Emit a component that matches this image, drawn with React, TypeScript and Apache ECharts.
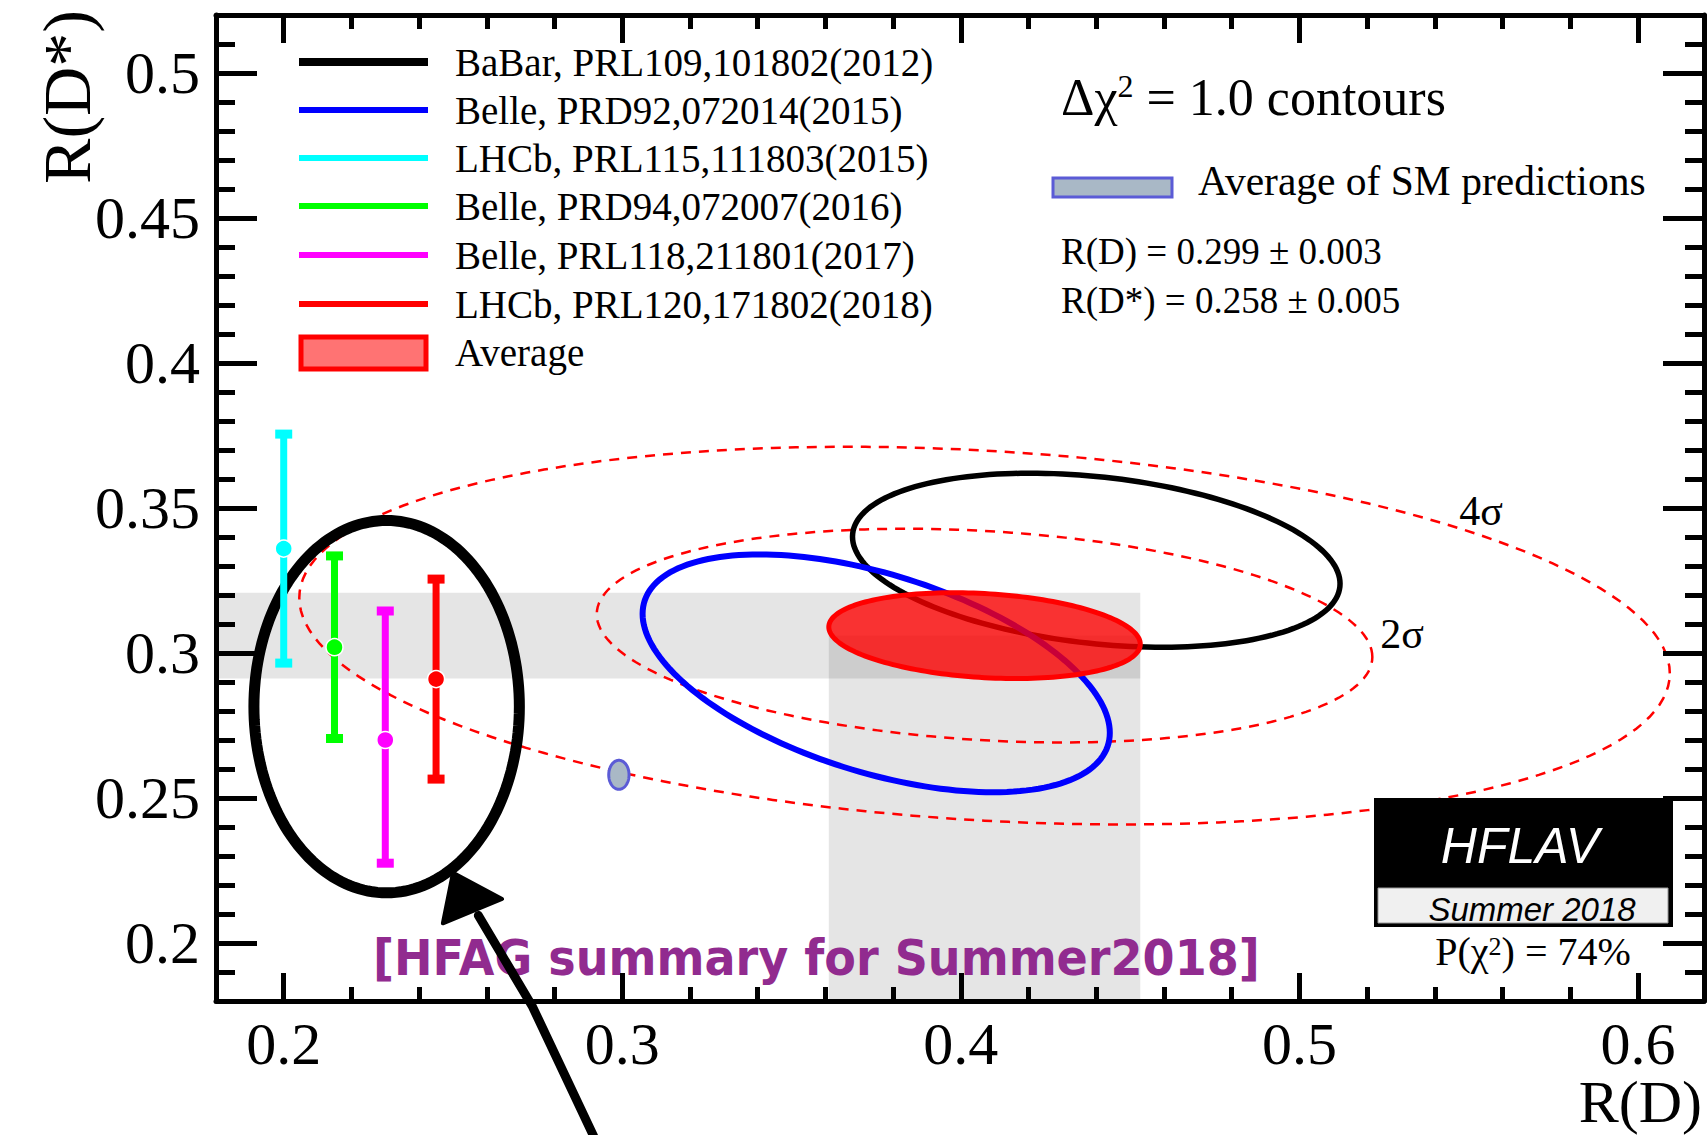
import React, { useEffect, useRef } from "react";
import * as echarts from "echarts";

// ---------- axis ranges and ticks ----------
const X_MIN = 0.18;
const X_MAX = 0.6195;
const Y_MIN = 0.18;
const Y_MAX = 0.52;
const xMajor = [0.2, 0.3, 0.4, 0.5, 0.6];
const xMinor = [0.22, 0.24, 0.26, 0.28, 0.32, 0.34, 0.36, 0.38, 0.42, 0.44, 0.46, 0.48, 0.52, 0.54, 0.56, 0.58];
const yMajor = [0.2, 0.25, 0.3, 0.35, 0.4, 0.45, 0.5];
const yMinor = [0.19, 0.21, 0.22, 0.23, 0.24, 0.26, 0.27, 0.28, 0.29, 0.31, 0.32, 0.33, 0.34, 0.36, 0.37, 0.38, 0.39, 0.41, 0.42, 0.43, 0.44, 0.46, 0.47, 0.48, 0.49, 0.51];

// ---------- 2D measurements (R(D), R(D*)), total errors, correlation ----------
const ellNames = ["BaBar, PRL109,101802(2012)", "Belle, PRD92,072014(2015)"];
const ellRD = [0.44, 0.375];
const ellRDs = [0.332, 0.293];
const ellErrRD = [0.072, 0.069];
const ellErrRDs = [0.030, 0.041];
const ellRho = [-0.27, -0.5];

// ---------- R(D*)-only measurements ----------
const barNames = ["LHCb, PRL115,111803(2015)", "Belle, PRD94,072007(2016)", "Belle, PRL118,211801(2017)", "LHCb, PRL120,171802(2018)"];
const barX = [0.2, 0.215, 0.23, 0.245];
const barRDs = [0.336, 0.302, 0.27, 0.291];
const barErrUp = [0.040, 0.032, 0.045, 0.035];
const barErrDn = [0.040, 0.032, 0.043, 0.035];

// ---------- average ----------
const avgRD = 0.407;
const avgRDs = 0.306;
const avgErrRD = 0.046;
const avgErrRDs = 0.0148;
const avgRho = -0.2;
const contourLabels = ["2σ", "4σ"];
const contourScale = [2.49, 4.4];
const pChi2 = 74;

// ---------- SM prediction ----------
const smRD = 0.299;
const smErrRD = 0.003;
const smRDs = 0.258;
const smErrRDs = 0.005;

// ---------- hand-drawn annotation (data coordinates) ----------
const annCenter = [0.2304, 0.2815];
const annRadii = [0.0392, 0.0642];
const arrowShaft = [[0.2915, 0.1335], [0.2735, 0.178], [0.2575, 0.2095]];
const arrowHead = [[0.25, 0.2242], [0.247, 0.2068], [0.2645, 0.2152]];

// ---------- styles ----------
const SERIF = "Liberation Serif";
const SANS = "Liberation Sans";
const ellColors = ["#000000", "#0000ff"];
const ellWidths = [5.5, 6];
const barColors = ["#00ffff", "#00ff00", "#ff00ff", "#ff0000"];

function ellipsePts(api: any, mx: number, my: number, sx: number, sy: number, rho: number, k: number, n = 180) {
  const pts: number[][] = [];
  const c = Math.sqrt(1 - rho * rho);
  for (let i = 0; i < n; i++) {
    const t = (2 * Math.PI * i) / n;
    pts.push(api.coord([mx + k * sx * Math.cos(t), my + k * sy * (rho * Math.cos(t) + c * Math.sin(t))]));
  }
  return pts;
}

const fmt = (v: number) => String(Math.round(v * 100) / 100);

function xAxisDef(pos: "bottom" | "top", major: boolean) {
  return {
    type: "value",
    min: X_MIN,
    max: X_MAX,
    position: pos,
    z: 10,
    axisLine: { show: major, onZero: false, lineStyle: { color: "#000", width: 5 } },
    axisTick: {
      show: true,
      inside: true,
      length: major ? 28 : 14,
      customValues: major ? xMajor : xMinor,
      lineStyle: { color: "#000", width: 5 },
    },
    axisLabel: {
      show: major && pos === "bottom",
      customValues: xMajor,
      formatter: fmt,
      margin: 18,
      lineHeight: 50,
      fontFamily: SERIF,
      fontSize: 60,
      color: "#000",
    },
    splitLine: { show: false },
  };
}

function yAxisDef(pos: "left" | "right", major: boolean) {
  return {
    type: "value",
    min: Y_MIN,
    max: Y_MAX,
    position: pos,
    z: 10,
    axisLine: { show: major, onZero: false, lineStyle: { color: "#000", width: 5 } },
    axisTick: {
      show: true,
      inside: true,
      length: major ? 41 : 19,
      customValues: major ? yMajor : yMinor,
      lineStyle: { color: "#000", width: 5 },
    },
    axisLabel: {
      show: major && pos === "left",
      customValues: yMajor,
      formatter: fmt,
      margin: 16,
      fontFamily: SERIF,
      fontSize: 60,
      color: "#000",
    },
    splitLine: { show: false },
  };
}

function txt(x: number, y: number, text: string, fontSize: number, extra: any = {}) {
  return {
    type: "text",
    x,
    y,
    z: 30,
    style: {
      text,
      fontSize,
      fontFamily: SERIF,
      fill: "#000",
      align: "left",
      textAlign: "left",
      verticalAlign: "middle",
      textVerticalAlign: "middle",
      ...extra,
    },
  };
}

function buildOption() {
  const legendNames = [...ellNames, ...barNames];
  const legendColors = [...ellColors, ...barColors];
  const legendY = [62, 110, 158, 206, 255, 304];
  const graphic: any[] = [];
  legendNames.forEach((name, i) => {
    graphic.push({
      type: "line",
      z: 30,
      shape: { x1: 299, y1: legendY[i], x2: 428, y2: legendY[i] },
      style: { stroke: legendColors[i], lineWidth: i === 0 ? 8 : 6 },
    });
    graphic.push(txt(455, legendY[i], name, 39));
  });
  graphic.push({
    type: "rect",
    z: 30,
    shape: { x: 301, y: 337, width: 125, height: 32 },
    style: { fill: "#ff7373", stroke: "#ff0000", lineWidth: 5 },
  });
  graphic.push(txt(455, 352, "Average", 39));

  // top-right block
  graphic.push(
    txt(1061, 97, "Δχ{s|2} = 1.0 contours", 52, {
      rich: { s: { fontSize: 32, fontFamily: SERIF, padding: [0, 0, 22, 0], verticalAlign: "bottom" } },
    })
  );
  graphic.push({
    type: "rect",
    z: 30,
    shape: { x: 1053, y: 178, width: 119, height: 19 },
    style: { fill: "#a9b8c6", stroke: "#5b5bd6", lineWidth: 3 },
  });
  graphic.push(txt(1198, 181, "Average of SM predictions", 41.5));
  graphic.push(txt(1061, 251, `R(D) = ${smRD.toFixed(3)} ± ${smErrRD.toFixed(3)}`, 37));
  graphic.push(txt(1061, 300, `R(D*) = ${smRDs.toFixed(3)} ± ${smErrRDs.toFixed(3)}`, 37));

  // contour labels
  graphic.push(txt(1402, 634, contourLabels[0], 42, { align: "center", textAlign: "center" }));
  graphic.push(txt(1481, 511, contourLabels[1], 42, { align: "center", textAlign: "center" }));

  // HFLAV logo
  graphic.push({ type: "rect", z: 30, shape: { x: 1374, y: 798, width: 299, height: 129 }, style: { fill: "#000" } });
  graphic.push({
    type: "rect",
    z: 31,
    shape: { x: 1378, y: 888, width: 290, height: 35 },
    style: { fill: "#f0f0f0", stroke: "#999", lineWidth: 1 },
  });
  graphic.push(
    txt(1520, 846, "HFLAV", 50, { fontFamily: SANS, fontStyle: "italic", fill: "#fff", align: "center", textAlign: "center" })
  );
  graphic.push({
    ...txt(1532, 909, "Summer 2018", 33, { fontFamily: SANS, fontStyle: "italic", align: "center", textAlign: "center" }),
    z: 32,
  });
  graphic.push(
    txt(1533, 951, `P(χ{s|2}) = ${pChi2}%`, 40, {
      align: "center",
      textAlign: "center",
      rich: { s: { fontSize: 26, fontFamily: SERIF, padding: [0, 0, 12, 0], verticalAlign: "bottom" } },
    })
  );

  // purple annotation text (below the hand-drawn arrow)
  graphic.push({
    type: "text",
    x: 373,
    y: 958,
    z: 7,
    scaleX: 0.94,
    style: {
      text: "[HFAG summary for Summer2018]",
      fontSize: 49,
      fontFamily: "DejaVu Sans",
      fontWeight: "bold",
      fill: "#912b8f",
      align: "left",
      textAlign: "left",
      verticalAlign: "middle",
      textVerticalAlign: "middle",
    },
  });

  // axis titles
  graphic.push({
    type: "text",
    x: 67,
    y: 97,
    z: 30,
    rotation: Math.PI / 2,
    style: {
      text: "R(D*)",
      fontSize: 68,
      fontFamily: SERIF,
      fill: "#000",
      align: "center",
      textAlign: "center",
      verticalAlign: "middle",
      textVerticalAlign: "middle",
    },
  });
  graphic.push(txt(1702, 1102, "R(D)", 60, { align: "right", textAlign: "right" }));

  const series: any[] = [
    // bands
    {
      type: "custom",
      z: 1,
      silent: true,
      data: [[avgRD, avgRDs, avgErrRD, avgErrRDs]],
      encode: { x: 0, y: 1 },
      renderItem: (params: any, api: any) => {
        const mx = api.value(0), my = api.value(1), ex = api.value(2), ey = api.value(3);
        const h0 = api.coord([X_MIN, my + ey]);
        const h1 = api.coord([mx + ex, my - ey]);
        const v0 = api.coord([mx - ex, my]);
        const v1 = api.coord([mx + ex, Y_MIN]);
        return {
          type: "group",
          children: [
            { type: "rect", shape: { x: h0[0], y: h0[1], width: h1[0] - h0[0], height: h1[1] - h0[1] }, style: { fill: "rgba(0,0,0,0.1)" } },
            { type: "rect", shape: { x: v0[0], y: v0[1], width: v1[0] - v0[0], height: v1[1] - v0[1] }, style: { fill: "rgba(0,0,0,0.1)" } },
          ],
        };
      },
    },
    // contours
    {
      type: "custom",
      z: 2,
      silent: true,
      clip: true,
      data: contourScale.map((k) => [avgRD, avgRDs, k]),
      encode: { x: 0, y: 1 },
      renderItem: (params: any, api: any) => ({
        type: "polygon",
        shape: { points: ellipsePts(api, api.value(0), api.value(1), avgErrRD, avgErrRDs, avgRho, api.value(2)) },
        style: { fill: "none", stroke: "#ff0000", lineWidth: 2.5, lineDash: [10, 8] },
      }),
    },
    // hand-drawn ellipse
    {
      type: "custom",
      z: 3,
      silent: true,
      clip: false,
      data: [[annCenter[0], annCenter[1], annRadii[0], annRadii[1]]],
      encode: { x: 0, y: 1 },
      renderItem: (params: any, api: any) => ({
        type: "polygon",
        shape: { points: ellipsePts(api, api.value(0), api.value(1), api.value(2), api.value(3), 0, 1) },
        style: { fill: "none", stroke: "#000", lineWidth: 11 },
      }),
    },
    // 2D measurement ellipses
    {
      type: "custom",
      z: 4,
      silent: true,
      data: ellRD.map((v, i) => [v, ellRDs[i], ellErrRD[i], ellErrRDs[i], ellRho[i]]),
      encode: { x: 0, y: 1 },
      renderItem: (params: any, api: any) => ({
        type: "polygon",
        shape: { points: ellipsePts(api, api.value(0), api.value(1), api.value(2), api.value(3), api.value(4), 1) },
        style: { fill: "none", stroke: ellColors[params.dataIndex], lineWidth: ellWidths[params.dataIndex] },
      }),
    },
    // average ellipse
    {
      type: "custom",
      z: 5,
      silent: true,
      data: [[avgRD, avgRDs, avgErrRD, avgErrRDs, avgRho]],
      encode: { x: 0, y: 1 },
      renderItem: (params: any, api: any) => ({
        type: "polygon",
        shape: { points: ellipsePts(api, api.value(0), api.value(1), api.value(2), api.value(3), api.value(4), 1) },
        style: { fill: "rgba(255,0,0,0.78)", stroke: "#ff0000", lineWidth: 5 },
      }),
    },
    // SM point
    {
      type: "custom",
      z: 6,
      silent: true,
      data: [[smRD, smRDs, smErrRD, smErrRDs]],
      encode: { x: 0, y: 1 },
      renderItem: (params: any, api: any) => ({
        type: "polygon",
        shape: { points: ellipsePts(api, api.value(0), api.value(1), api.value(2), api.value(3), 0, 1) },
        style: { fill: "#a9b8c6", stroke: "#5b5bd6", lineWidth: 3 },
      }),
    },
    // error bars
    {
      type: "custom",
      z: 7,
      silent: true,
      data: barX.map((x, i) => [x, barRDs[i], barRDs[i] - barErrDn[i], barRDs[i] + barErrUp[i]]),
      encode: { x: 0, y: 1 },
      renderItem: (params: any, api: any) => {
        const color = barColors[params.dataIndex];
        const pc = api.coord([api.value(0), api.value(1)]);
        const pl = api.coord([api.value(0), api.value(2)]);
        const ph = api.coord([api.value(0), api.value(3)]);
        return {
          type: "group",
          children: [
            { type: "line", shape: { x1: pl[0], y1: pl[1], x2: ph[0], y2: ph[1] }, style: { stroke: color, lineWidth: 7 } },
            { type: "rect", shape: { x: ph[0] - 8.5, y: ph[1] - 3, width: 17, height: 9 }, style: { fill: color } },
            { type: "rect", shape: { x: pl[0] - 8.5, y: pl[1] - 6, width: 17, height: 9 }, style: { fill: color } },
            { type: "circle", shape: { cx: pc[0], cy: pc[1], r: 8.5 }, style: { fill: color, stroke: "#fff", lineWidth: 1.5 } },
          ],
        };
      },
    },
    // arrow
    {
      type: "custom",
      z: 8,
      silent: true,
      clip: false,
      data: [[arrowHead[0][0], arrowHead[0][1]]],
      encode: { x: 0, y: 1 },
      renderItem: (params: any, api: any) => ({
        type: "group",
        children: [
          {
            type: "polyline",
            shape: { points: arrowShaft.map((p) => api.coord(p)) },
            style: { stroke: "#000", lineWidth: 9, fill: "none", lineJoin: "round", lineCap: "round" },
          },
          {
            type: "polygon",
            shape: { points: arrowHead.map((p) => api.coord(p)) },
            style: { fill: "#000", stroke: "#000", lineWidth: 4, lineJoin: "round" },
          },
        ],
      }),
    },
  ];

  return {
    animation: false,
    backgroundColor: "#fff",
    grid: { left: 216, right: 3, top: 15, bottom: 134, show: false },
    xAxis: [xAxisDef("bottom", true), xAxisDef("bottom", false), xAxisDef("top", true), xAxisDef("top", false)],
    yAxis: [yAxisDef("left", true), yAxisDef("left", false), yAxisDef("right", true), yAxisDef("right", false)],
    series,
    graphic,
  };
}

export default function App() {
  const ref = useRef<HTMLDivElement>(null);
  useEffect(() => {
    const chart = echarts.init(ref.current!, null, { renderer: "svg" });
    chart.setOption(buildOption() as any);
    return () => chart.dispose();
  }, []);
  return (
    <div
      ref={ref}
      style={{ position: "fixed", left: 0, top: 0, width: 1707, height: 1135, background: "#fff" }}
    />
  );
}
